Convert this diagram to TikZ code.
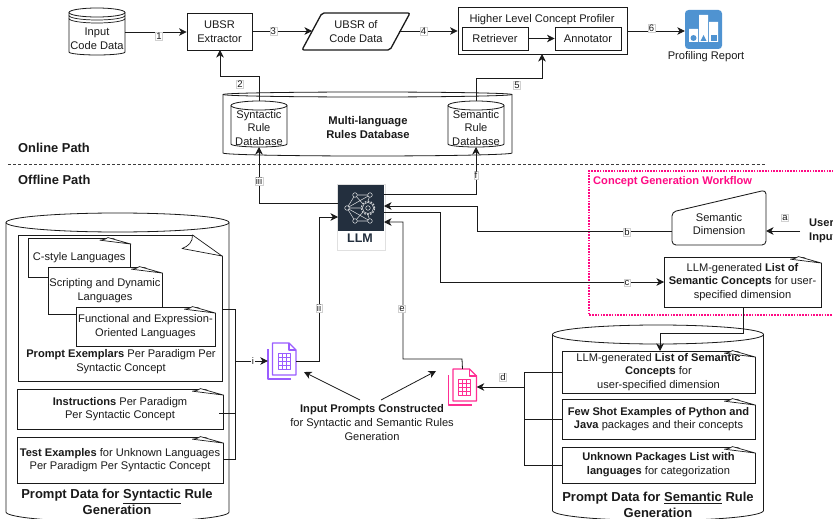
\documentclass[tikz,border=0pt]{standalone}
\usepackage{fontspec}
\setmainfont{Liberation Sans}
\usetikzlibrary{arrows.meta,calc}
\definecolor{ink}{HTML}{1A1A1A}
\definecolor{hotpink}{HTML}{FF0A84}
\definecolor{docpurple}{HTML}{9A5CFF}
\definecolor{docpink}{HTML}{FF2E93}
\definecolor{awsdark}{HTML}{232F3E}
\definecolor{repblue}{HTML}{4F93D1}
\newcommand{\txt}{\fontsize{11.1}{13.7}\selectfont}
\newcommand{\bigtxt}{\fontsize{13}{16}\selectfont\bfseries}
\tikzset{
 conn/.style={draw=ink,line width=0.8pt},
 arr/.style={conn,-{Stealth[length=7.5pt,width=7.5pt,inset=2.2pt]}},
 lab/.style={fill=white,draw=black!18,line width=0.3pt,inner sep=0.8pt,font=\fontsize{9.5}{10}\selectfont,text=ink},
 plain/.style={inner sep=0pt,align=center,text=ink,font=\txt},
 boxx/.style={draw=ink,line width=0.85pt,inner sep=0pt,align=center,text=ink,font=\txt,fill=white},
 notebox/.style={boxx},
 fold/.style={draw=ink,line width=0.7pt,fill=white,line join=round},
 shapeline/.style={draw=ink,line width=0.8pt,fill=white},
}
% \cyl{name}{xl}{yt}{xr}{yb}{ry}{bottom ry}
\newcommand{\cyl}[7]{%
 \pgfmathsetmacro{\cxm}{(#2+#4)/2}\pgfmathsetmacro{\crx}{(#4-#2)/2}
 \pgfmathsetmacro{\cyt}{#3+#6}\pgfmathsetmacro{\cyb}{#5-#7}\pgfmathsetmacro{\cym}{(#3+#5)/2}
 \pgfmathsetmacro{\cw}{#4-#2}\pgfmathsetmacro{\ch}{#5-#3}
 \node[minimum width=\cw pt,minimum height=\ch pt,inner sep=0pt] (#1) at (\cxm,\cym) {};
 \path[shapeline] (#2,\cyt) arc[start angle=180,end angle=360,x radius=\crx,y radius=#6] -- (#4,\cyb) arc[start angle=0,end angle=180,x radius=\crx,y radius=#7] -- cycle;
 \path[shapeline,fill=none] (#2,\cyt) arc[start angle=180,end angle=0,x radius=\crx,y radius=#6];
}
% \note{name}{xl}{yt}{xr}{yb}{text}
\newcommand{\note}[6]{%
 \pgfmathsetmacro{\nx}{(#2+#4)/2}\pgfmathsetmacro{\ny}{(#3+#5)/2}
 \pgfmathsetmacro{\nw}{#4-#2}\pgfmathsetmacro{\nh}{#5-#3}
 \node[notebox,minimum width=\nw pt,minimum height=\nh pt] (#1) at (\nx,\ny) {#6};
 \fill[white] ([xshift=-23pt,yshift=1pt]#1.north east) -- ([xshift=1pt,yshift=1pt]#1.north east) -- ([xshift=1pt,yshift=-6.5pt]#1.north east) -- cycle;
 \path[fold] ([xshift=-23pt]#1.north east) -- ([yshift=-6.5pt]#1.north east) -- ([xshift=-31pt,yshift=-2.6pt]#1.north east) .. controls ([xshift=-27pt,yshift=-2.2pt]#1.north east) and ([xshift=-24pt,yshift=-1.2pt]#1.north east) .. ([xshift=-23pt]#1.north east) -- cycle;
}
% \docicon{name}{cx}{cy}{colour}
\newcommand{\docicon}[4]{%
 \node[minimum width=28pt,minimum height=36pt,inner sep=0pt] (#1) at (#2,#3) {};
 \begin{scope}[shift={(#1.center)},draw=#4,line width=1.3pt,line join=round]
  \draw (-14,-12) -- (-14,18) -- (9,18);
  \draw[fill=white] (-9.5,-18) -- (7,-18) -- (14,-11) -- (14,14) -- (-9.5,14) -- cycle;
  \draw (7,-18) -- (7,-11) -- (14,-11);
  \draw[line width=0.9pt] (-4,-8) rectangle (8,8);
  \draw[line width=0.9pt] (-4,-4) -- (8,-4) (-4,0) -- (8,0) (-4,4) -- (8,4) (0,-8) -- (0,8) (4,-8) -- (4,8);
 \end{scope}
}
\begin{document}
\begin{tikzpicture}[x=1pt,y=-1pt]
\useasboundingbox (0,0) rectangle (833,519);
\clip (0,0) rectangle (833,519);

% ---- section dividers
\coordinate (dashL) at (8,164);
\coordinate (dashR) at (767,164);
\draw[draw=ink!85,line width=0.7pt,dash pattern=on 3pt off 2.2pt] (dashL) -- (dashR);
\node[plain,anchor=west,font=\fontsize{12.9}{14}\selectfont\bfseries] (online) at (18,148) {Online Path};
\node[plain,anchor=west,font=\fontsize{12.9}{14}\selectfont\bfseries] (offline) at (18,180) {Offline Path};

% ---- online path
\cyl{input}{69}{8}{125}{55}{4.5}{3}
\draw[conn,line width=0.7pt] (69,15.5) arc[start angle=180,end angle=0,x radius=28,y radius=4.5];
\draw[conn,line width=0.7pt] (69,18.5) arc[start angle=180,end angle=0,x radius=28,y radius=4.5];
\node[plain] (inputT) at (97,39) {Input\\Code Data};
\node[boxx,minimum width=65pt,minimum height=37pt] (extractor) at (219.5,31.5) {UBSR\\Extractor};
\draw[draw=ink,line width=1.3pt,fill=white,line join=round,rounded corners=2pt] (322,13) -- (410,13) -- (390,50) -- (302,50) -- cycle;
\node[plain,minimum width=108pt,minimum height=37pt] (ubsr) at (356,31.5) {UBSR of\\Code Data};
\coordinate (ubsrW) at (312,31);
\coordinate (ubsrE) at (399,31);
\node[boxx,minimum width=169pt,minimum height=47pt] (profiler) at (542.5,30.5) {};
\node[plain] (profT) at (542,20) {Higher Level Concept Profiler};
\node[boxx,minimum width=66pt,minimum height=23pt] (retriever) at (495,38.5) {Retriever};
\node[boxx,minimum width=66pt,minimum height=23pt] (annotator) at (588,38.5) {Annotator};
\node[draw=none,fill=repblue,rounded corners=3.5pt,minimum width=37pt,minimum height=39pt,inner sep=0pt] (report) at (703.5,29.5) {};
\fill[white] (689,29) rectangle (698,42) (699,15) rectangle (708,42) (709,22) rectangle (718,42);
\fill[repblue] (693.5,38) circle (3pt);
\fill[repblue] (700.5,41) -- (703.5,35) -- (706.5,41) -- cycle;
\fill[repblue] (710.5,35) rectangle (716.5,41);
\node[plain] (reportT) at (706,57) {Profiling Report};

% multi-language database
\cyl{multi}{223}{92}{512}{156}{2.5}{3}
\node[plain,font=\fontsize{11.2}{13.7}\selectfont\bfseries] (multiT) at (368,127.5) {Multi-language\\Rules Database};
\cyl{syn}{231}{101}{287}{147}{4.5}{3}
\node[plain] (synT) at (259,128) {Syntactic\\Rule\\Database};
\cyl{sem}{448}{101}{504}{147}{4.5}{3}
\node[plain] (semT) at (476,128) {Semantic\\Rule\\Database};

\draw[arr] (input.east |- 0,32) -- node[lab,pos=0.55,yshift=-4pt] (l1) {1} (extractor.west |- 0,32);
\draw[arr] (extractor.east |- 0,31) -- node[lab,pos=0.35] (l3) {3} (ubsrW);
\draw[arr] (ubsrE) -- node[lab,pos=0.42] (l4) {4} (profiler.west |- 0,31);
\draw[arr] (retriever) -- (annotator);
\draw[arr] (profiler.east |- 0,31) -- node[lab,pos=0.42,yshift=3pt] (l6) {6} (report.west |- 0,31);
\coordinate (synTop) at (259,101);
\coordinate (semTop) at (476,101);
\coordinate (extBot) at (220,50);
\coordinate (profBot) at (542,54);
\draw[arr] (synTop) -- (259,76) -- (220,76) -- (extBot);
\node[lab] (l2) at (240,84) {2};
\draw[arr] (semTop) -- (476,78) -- (542,78) -- (profBot);
\node[lab] (l5) at (517,85) {5};

% ---- LLM
\node[draw=black!12,fill=white,line width=0.5pt,minimum width=48pt,minimum height=66pt,inner sep=0pt] (llmbox) at (361,217) {};
\node[fill=awsdark,minimum width=46pt,minimum height=46pt,inner sep=0pt] (llm) at (361,208) {};
\node[inner sep=0pt,text=awsdark,font=\fontsize{12.5}{13}\selectfont\bfseries] (llmT) at (360,238.5) {LLM};
\begin{scope}[draw=white!80!awsdark,line width=0.55pt]
 \draw (355,195) -- (370,195) (355,195) -- (347,208) -- (355,221) -- (370,221)
       (347,208) -- (370,195) (347,208) -- (370,221) (347,208) -- (362,208) (355,195) -- (363,204) (355,221) -- (363,212) (370,195) -- (368,201) (370,221) -- (368,215);
 \foreach \p in {(355,195),(370,195),(347,208),(355,221),(370,221)} \draw[fill=awsdark] \p circle (2.3pt);
 \draw[fill=awsdark,line width=1.2pt,dash pattern=on 1.6pt off 1.4pt] (368,208) circle (6.6pt);
 \draw[fill=awsdark,line width=0.55pt] (368,208) circle (5.6pt);
 \draw[fill=awsdark] (368,208) circle (2.3pt);
\end{scope}
\coordinate (llmL1) at (338,203);
\coordinate (llmL2) at (338,217);
\coordinate (llmR1) at (384,194);
\coordinate (llmR2) at (384,206);
\coordinate (llmR3) at (384,212);
\coordinate (llmR4) at (384,222);
\coordinate (synBot) at (259,147);
\coordinate (semBot) at (476,147);

% ---- concept generation workflow
\draw[draw=hotpink,line width=1.6pt,dash pattern=on 1.6pt off 1.2pt] (845,171) -- (589,171) -- (589,315) -- (845,315);
\node[plain,anchor=west,text=hotpink,font=\fontsize{11.1}{13}\selectfont\bfseries] (cgw) at (593,182) {Concept Generation Workflow};
\draw[draw=ink,line width=0.85pt,fill=white,line join=round,rounded corners=4pt] (672,212) -- (766,190) -- (766,245) -- (672,245) -- cycle;
\node[plain,minimum width=94pt,minimum height=30pt] (dim) at (719,224) {Semantic\\Dimension};
\coordinate (dimW) at (672,231);
\coordinate (dimE) at (766,231);
\node[plain,anchor=west,align=left,font=\fontsize{11.1}{13.7}\selectfont\bfseries] (user) at (809,231) {User\\Input};
\note{list}{664}{257}{821}{307}{LLM-generated \textbf{List of}\\\textbf{Semantic Concepts} for user-\\specified dimension}
\coordinate (listW) at (664,282);
\coordinate (listS) at (743,307);

\draw[arr] (user.west) ++(-9,0) coordinate (userW) -- (dimE);
\node[lab] (la) at (785,218) {a};
\draw[arr] (dimW) -- (477,231) -- (477,206) -- (llmR2);
\node[lab] (lb) at (627,232) {b};
\draw[arr] (llmR3) -- (440,212) -- (440,282) -- (listW);
\node[lab] (lc) at (627,283) {c};
\draw[arr] (llmL1) -- (259,203) -- (synBot);
\node[lab] (liii) at (259,181) {iii};
\draw[arr] (llmR1) -- (476,194) -- (semBot);
\node[lab] (lf) at (476,175) {f};

% ---- syntactic prompt data
\cyl{pds}{6}{213}{229}{522}{9.5}{10}
\node[boxx,minimum width=204pt,minimum height=146pt] (exemplars) at (120,308) {};
\fill[white] (192,234) -- (223,234) -- (223,256) -- cycle;
\path[fold] (192.5,235) -- (222,256) -- (182,248.5) .. controls (188,246.5) and (193,242) .. (192.5,235) -- cycle;
\note{cstyle}{28}{238}{130.5}{277}{C-style Languages}
\note{script}{48}{267}{162}{314}{Scripting and Dynamic\\Languages}
\note{func}{76}{307}{215}{346}{Functional and Expression-\\Oriented Languages}
\node[plain] (exT) at (121,361.5) {\textbf{Prompt Exemplars} Per Paradigm Per\\Syntactic Concept};
\note{instr}{17}{389}{223}{429}{\textbf{Instructions} Per Paradigm\\Per Syntactic Concept}
\note{test}{17}{437}{223}{483}{\textbf{Test Examples} for Unknown Languages\\Per Paradigm Per Syntactic Concept}
\node[plain,font=\bigtxt] (pdsT) at (117,502) {Prompt Data for \underline{Syntactic} Rule\\Generation};

\coordinate (busS) at (235,361);
\draw[conn] (exemplars.east |- 0,309) -- (235,309) -- (235,459) -- (test.east |- 0,459);
\draw[conn] (219,413) -- (235,413);
\docicon{pdoc}{282}{361}{docpurple}
\draw[arr] (busS) -- node[lab,draw=none,pos=0.55] (li) {i} (pdoc.west);
\draw[arr] (pdoc.east) -- (319,361) -- (319,217) -- (llmL2);
\node[lab] (lii) at (319,308) {ii};

% ---- semantic prompt data
\cyl{pdm}{552.5}{325}{763.5}{520.5}{9.5}{10}
\note{lsc}{562}{351}{755}{393}{LLM-generated \textbf{List of Semantic}\\\textbf{Concepts} for\\user-specified dimension}
\note{few}{562}{399}{755}{439}{\textbf{Few Shot Examples of Python and}\\\textbf{Java} packages and their concepts}
\note{unk}{562}{447}{755}{483}{\textbf{Unknown Packages List with}\\\textbf{languages} for categorization}
\node[plain,font=\bigtxt] (pdmT) at (658,505) {Prompt Data for \underline{Semantic} Rule\\Generation};
\coordinate (lscTop) at (660,351);
\draw[arr] (listS) -- (743,333) -- (660,333) -- (lscTop);
\coordinate (busD) at (524,387);
\draw[conn] (lsc.west |- 0,372) -- (524,372) -- (524,465) -- (unk.west |- 0,465);
\draw[conn] (524,419) -- (few.west |- 0,419);
\docicon{mdoc}{462.5}{387}{docpink}
\draw[arr] (busD) -- (mdoc.east);
\node[lab] (ld) at (503,377) {d};
\draw[arr] (mdoc.north) -- (462,359) -- (403,359) -- (403,222) -- (llmR4);
\node[lab] (le) at (402,309) {e};

% ---- input prompts caption
\node[plain] (ipc) at (372,422.5) {\textbf{Input Prompts Constructed}\\for Syntactic and Semantic Rules\\Generation};
\coordinate (ipcL) at (360,400);
\coordinate (ipcR) at (381,400);
\coordinate (ipcLt) at (304,372);
\coordinate (ipcRt) at (436,371);
\draw[arr] (ipcL) -- (ipcLt);
\draw[arr] (ipcR) -- (ipcRt);
\end{tikzpicture}
\end{document}
